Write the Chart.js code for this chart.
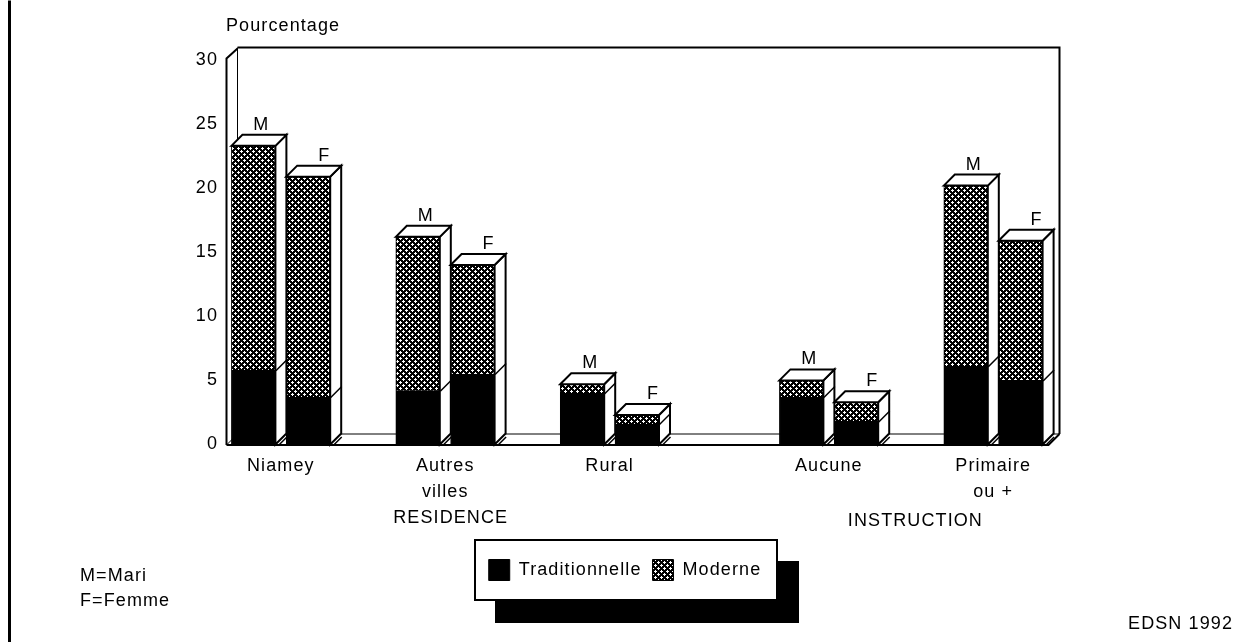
<!DOCTYPE html>
<html><head><meta charset="utf-8">
<script src="https://cdn.jsdelivr.net/npm/chart.js@4"></script>
<style>html,body{margin:0;padding:0;background:#fff}#w{position:relative;width:1245px;height:642px}</style>
</head><body><div id="w"><canvas id="c" width="1245" height="642"></canvas></div>
<script>
const barSlots = [0.5,1.5,3.5,4.5,6.5,7.5,10.5,11.5,13.5,14.5];
const spouse = ['M','F','M','F','M','F','M','F','M','F'];
const traditionnelle = [5.8,3.7,4.2,5.5,4.0,1.6,3.7,1.8,6.1,5.0];
const moderne = [17.5,17.2,12.0,8.5,0.7,0.7,1.3,1.5,14.1,10.9];
const groupTicks = [1,4,7,11,14];
const groupLabels = [['Niamey'],['Autres','villes'],['Rural'],['Aucune'],['Primaire','ou +']];
const sectionTitles = ['RESIDENCE','INSTRUCTION'];
const sectionSlots = [4.1,12.58];
const yTicks = [0,5,10,15,20,25,30];
const seriesNames = ['Traditionnelle','Moderne'];
const FONT = 'Liberation Sans, Arial, sans-serif', SZ = 18, INK = '#000', DEPTH = 11, TRACK='1.1px';

function hatch(){
  const t=document.createElement('canvas');t.width=t.height=6;
  const g=t.getContext('2d');g.fillStyle='#000';g.fillRect(0,0,6,6);g.fillStyle='#fff';
  [[1,1],[4,4]].forEach(p=>{g.fillRect(p[0],p[1]-1,1,3);g.fillRect(p[0]-1,p[1],3,1);});
  return g.createPattern(t,'repeat');
}
const cv=document.getElementById('c');
const modernPattern=hatch();

function line(c,pts){c.beginPath();pts.forEach((p,i)=>i?c.lineTo(p[0]+.5,p[1]+.5):c.moveTo(p[0]+.5,p[1]+.5));c.stroke();}

const extras={id:'extras',
  beforeLayout(ch){ch.ctx.letterSpacing=TRACK;},
  beforeDraw(ch){
    const c=ch.ctx,L=ch.legend;
    c.letterSpacing=TRACK;
    L.left=0;L.right=1250;
    c.save();
    c.fillStyle='#000';c.fillRect(495,561,304,62);
    c.fillStyle='#fff';c.fillRect(475,540,302,60);
    c.strokeStyle='#000';c.lineWidth=2;c.strokeRect(475,540,302,60);
    c.restore();
  },
  beforeDatasetsDraw(ch){
    const c=ch.ctx,a=ch.chartArea,d=DEPTH,t=a.top-2;
    c.save();c.strokeStyle=INK;
    c.lineWidth=2;
    line(c,[[a.left,a.bottom],[a.left,t],[a.left+d,t-d+1]]);
    line(c,[[a.left,a.bottom],[a.right,a.bottom],[a.right+d,a.bottom-d]]);
    line(c,[[a.left+d,t-d],[a.right+d,t-d],[a.right+d,a.bottom-d]]);
    c.lineWidth=1;
    line(c,[[a.left+d,t-d],[a.left+d,a.bottom-d],[a.right+d,a.bottom-d]]);
    line(c,[[a.left,a.bottom],[a.left+d,a.bottom-d]]);
    c.restore();
  },
  afterDatasetsDraw(ch){
    const c=ch.ctx,d=DEPTH,m0=ch.getDatasetMeta(0).data,m1=ch.getDatasetMeta(1).data;
    c.save();c.strokeStyle=INK;c.lineWidth=2;c.lineJoin='miter';
    m1.forEach((b,i)=>{
      const l=b.x-b.width/2,r=b.x+b.width/2,top=b.y,base=m0[i].base,split=m0[i].y;
      c.fillStyle='#fff';
      c.beginPath();c.moveTo(r,base);c.lineTo(r+d,base-d);c.lineTo(r+d,top-d);c.lineTo(r,top);c.closePath();c.fill();c.stroke();
      c.beginPath();c.moveTo(l,top);c.lineTo(l+d,top-d);c.lineTo(r+d,top-d);c.lineTo(r,top);c.closePath();c.fill();c.stroke();
      c.lineWidth=1.5;
      line(c,[[r,split],[r+d,split-d]]);
      line(c,[[r+3,base],[r+d,base-d+3]]);
      c.lineWidth=2;
      c.fillStyle=INK;c.font=SZ+'px '+FONT;c.textAlign='center';c.textBaseline='alphabetic';
      c.fillText(spouse[i],b.x+(spouse[i]==='M'?8:16),top-d-5);
    });
    c.restore();
  },
  afterDraw(ch){
    const c=ch.ctx,xs=ch.scales.x;
    c.save();c.fillStyle=INK;c.font=SZ+'px '+FONT;c.textBaseline='alphabetic';
    c.textAlign='center';
    sectionTitles.forEach((t,i)=>c.fillText(t,xs.getPixelForValue(sectionSlots[i]),i?526:523));
    c.textAlign='left';
    c.fillText('M=Mari',80,581);c.fillText('F=Femme',80,606);
    c.textAlign='right';c.fillText('EDSN 1992',1233,629);
    c.strokeStyle=INK;c.lineWidth=3;line(c,[[9,0],[9,642]]);
    c.restore();
  }
};

new Chart(cv,{
  type:'bar',
  data:{datasets:[
    {label:seriesNames[0],data:barSlots.map((x,i)=>({x,y:traditionnelle[i]})),backgroundColor:'#000',borderColor:'#000',borderWidth:1,barThickness:44},
    {label:seriesNames[1],data:barSlots.map((x,i)=>({x,y:moderne[i]})),backgroundColor:modernPattern,borderColor:'#000',borderWidth:1,barThickness:44}
  ]},
  plugins:[extras],
  options:{
    responsive:false,animation:false,
    layout:{padding:{left:0,right:197,top:0,bottom:51.5}},
    plugins:{
      tooltip:{enabled:false},
      title:{display:true,text:'Pourcentage',align:'start',fullSize:false,color:INK,font:{family:FONT,size:SZ,weight:'normal'},padding:{top:15,bottom:23.4}},
      legend:{position:'bottom',align:'center',labels:{color:INK,font:{family:FONT,size:SZ},boxWidth:21,boxHeight:21,padding:11,
        generateLabels(ch){return ch.data.datasets.map((d,i)=>({text:d.label,fillStyle:d.backgroundColor,strokeStyle:'#000',lineWidth:1,datasetIndex:i}));}}}
    },
    scales:{
      x:{type:'linear',stacked:true,offset:false,min:0,max:15,grid:{display:false},border:{display:false},
        afterBuildTicks(s){s.ticks=groupTicks.map(v=>({value:v}));},
        afterFit(s){s.height=104;},
        ticks:{color:INK,font:{family:FONT,size:SZ,lineHeight:1.45},padding:0,maxRotation:0,autoSkip:false,
          callback(v){const i=groupTicks.indexOf(v);return i<0?'':groupLabels[i];}}},
      y:{stacked:true,min:0,max:30,grid:{display:false},border:{display:false},
        afterBuildTicks(s){s.ticks=yTicks.map(v=>({value:v}));},
        afterFit(s){s.width=226;},
        ticks:{color:INK,font:{family:FONT,size:SZ},padding:0}}
    }
  }
});
</script></body></html>
